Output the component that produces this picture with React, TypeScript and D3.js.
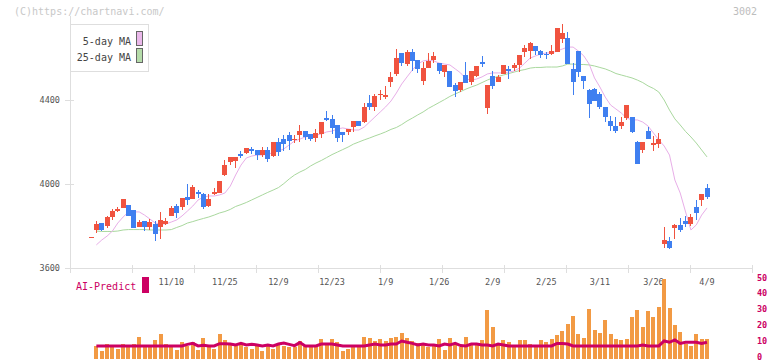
import * as d3 from "d3";
import { useEffect, useRef } from "react";

// OHLC, one entry per trading day (index 15 = 11/10, last = 4/9)
const openP = [
  3746, 3781, 3814, 3800, 3843, 3871, 3886, 3900, 3876, 3795, 3824, 3795, 3810, 3795, 3810, 3848, 3895, 3890, 3938, 3929,
  3962, 3952, 3895, 3952, 3957, 4043, 4105, 4110, 4143, 4148, 4167, 4162, 4138, 4162, 4133, 4200, 4214, 4233, 4210, 4233,
  4252, 4238, 4219, 4238, 4314, 4310, 4281, 4248, 4248, 4271, 4300, 4295, 4386, 4367, 4424, 4414, 4486, 4524, 4624, 4571,
  4629, 4590, 4490, 4552, 4590, 4576, 4533, 4538, 4471, 4448, 4519, 4486, 4514, 4581, 4362, 4514, 4486, 4524, 4548, 4552,
  4567, 4629, 4633, 4657, 4633, 4619, 4619, 4629, 4690, 4695, 4548, 4633, 4514, 4448, 4452, 4429, 4367, 4300, 4276, 4276,
  4314, 4319, 4200, 4162, 4252, 4186, 4190, 3714, 3729, 3790, 3805, 3824, 3810, 3890, 3924, 3981,
];
const highP = [
  3746, 3824, 3814, 3848, 3881, 3890, 3929, 3900, 3876, 3829, 3824, 3833, 3824, 3867, 3838, 3895, 3905, 3933, 4000, 3995,
  3971, 3957, 3952, 3981, 4014, 4114, 4129, 4129, 4157, 4171, 4176, 4162, 4176, 4176, 4200, 4219, 4233, 4248, 4233, 4281,
  4252, 4238, 4262, 4295, 4348, 4329, 4281, 4248, 4262, 4300, 4300, 4386, 4424, 4429, 4448, 4467, 4533, 4643, 4624, 4638,
  4643, 4590, 4581, 4624, 4629, 4576, 4567, 4538, 4481, 4486, 4581, 4538, 4562, 4610, 4471, 4538, 4519, 4567, 4562, 4576,
  4614, 4662, 4676, 4657, 4638, 4629, 4662, 4743, 4762, 4724, 4576, 4633, 4514, 4452, 4457, 4438, 4367, 4324, 4319, 4319,
  4376, 4319, 4205, 4200, 4271, 4229, 4243, 3795, 3748, 3810, 3838, 3848, 3857, 3924, 3952, 4000,
];
const lowP = [
  3746, 3768, 3776, 3792, 3829, 3867, 3886, 3848, 3790, 3795, 3776, 3781, 3729, 3738, 3805, 3848, 3838, 3876, 3900, 3929,
  3933, 3881, 3890, 3948, 3957, 4038, 4090, 4076, 4124, 4143, 4143, 4114, 4129, 4105, 4129, 4133, 4157, 4162, 4195, 4200,
  4210, 4205, 4200, 4219, 4300, 4238, 4200, 4200, 4233, 4248, 4276, 4290, 4352, 4348, 4400, 4405, 4462, 4514, 4562, 4562,
  4538, 4529, 4471, 4552, 4576, 4524, 4510, 4462, 4414, 4438, 4481, 4471, 4510, 4557, 4333, 4452, 4486, 4524, 4500, 4538,
  4533, 4605, 4595, 4614, 4600, 4595, 4614, 4629, 4671, 4571, 4424, 4510, 4452, 4314, 4395, 4357, 4295, 4252, 4243, 4262,
  4305, 4243, 4095, 4148, 4214, 4157, 4171, 3695, 3690, 3738, 3771, 3795, 3800, 3829, 3895, 3929,
];
const closeP = [
  3746, 3810, 3781, 3843, 3871, 3881, 3929, 3848, 3790, 3819, 3795, 3819, 3762, 3829, 3824, 3886, 3862, 3933, 3924, 3986,
  3952, 3890, 3929, 3962, 4014, 4090, 4129, 4129, 4133, 4171, 4157, 4138, 4162, 4119, 4200, 4152, 4190, 4205, 4214, 4252,
  4224, 4214, 4243, 4295, 4305, 4267, 4219, 4233, 4262, 4300, 4276, 4367, 4367, 4419, 4429, 4424, 4510, 4600, 4576, 4629,
  4586, 4548, 4552, 4586, 4610, 4538, 4567, 4462, 4443, 4486, 4481, 4538, 4562, 4571, 4471, 4467, 4510, 4567, 4538, 4567,
  4614, 4648, 4671, 4633, 4614, 4614, 4633, 4743, 4719, 4571, 4486, 4533, 4490, 4381, 4395, 4367, 4319, 4276, 4252, 4295,
  4376, 4248, 4095, 4200, 4214, 4195, 4214, 3733, 3695, 3805, 3781, 3810, 3843, 3862, 3952, 3938,
];

// moving averages as drawn
const ma5 = [
  null, 3710, 3733, 3752, 3776, 3814, 3843, 3867, 3867, 3867, 3852, 3833, 3814, 3810, 3810, 3819, 3829, 3848, 3871, 3895,
  3924, 3938, 3943, 3943, 3948, 3957, 3990, 4043, 4090, 4124, 4133, 4138, 4138, 4143, 4148, 4157, 4167, 4186, 4205, 4214,
  4224, 4229, 4233, 4238, 4248, 4252, 4262, 4267, 4262, 4257, 4257, 4271, 4295, 4319, 4343, 4367, 4395, 4433, 4476, 4510,
  4543, 4571, 4586, 4590, 4586, 4576, 4571, 4567, 4548, 4529, 4500, 4495, 4500, 4510, 4524, 4529, 4529, 4529, 4533, 4538,
  4552, 4576, 4600, 4610, 4619, 4624, 4624, 4633, 4643, 4652, 4652, 4633, 4610, 4571, 4505, 4462, 4414, 4376, 4357, 4338,
  4314, 4305, 4305, 4295, 4276, 4243, 4210, 4181, 4138, 4019, 3957, 3867, 3781, 3805, 3852, 3886,
];
const ma25 = [
  null, 3776, 3774, 3774, 3774, 3776, 3781, 3783, 3783, 3783, 3783, 3781, 3781, 3781, 3781, 3783, 3793, 3802, 3814, 3821,
  3829, 3836, 3843, 3852, 3862, 3869, 3879, 3893, 3902, 3912, 3924, 3936, 3948, 3960, 3971, 3983, 4002, 4024, 4043, 4057,
  4069, 4086, 4100, 4112, 4126, 4140, 4152, 4164, 4176, 4190, 4200, 4210, 4219, 4229, 4238, 4248, 4260, 4269, 4283, 4300,
  4314, 4329, 4343, 4360, 4374, 4388, 4402, 4417, 4429, 4440, 4452, 4462, 4471, 4483, 4495, 4505, 4512, 4519, 4526, 4533,
  4540, 4545, 4552, 4555, 4555, 4557, 4557, 4557, 4562, 4571, 4571, 4569, 4569, 4567, 4562, 4555, 4548, 4538, 4526, 4519,
  4512, 4505, 4495, 4483, 4467, 4455, 4438, 4400, 4352, 4310, 4281, 4250, 4224, 4195, 4162, 4129,
];

// lower panel
const volume = [
  null, 7.9, 4.7, 9.1, 7.9, 6.0, 9.1, 7.9, 9.1, 13.5, 7.9, 7.9, 11.6, 15.4, 9.1, 7.9, 5.3, 10.4, 7.9, 10.4,
  5.3, 12.9, 7.9, 6.0, 15.4, 11.6, 8.5, 7.9, 9.1, 7.3, 6.0, 8.5, 4.7, 8.5, 6.0, 9.1, 7.9, 7.3, 7.3, 11.0,
  7.9, 7.0, 7.0, 12.3, 8.5, 12.3, 10.6, 4.9, 6.0, 7.0, 7.9, 13.7, 12.9, 11.2, 12.3, 11.2, 12.9, 13.7, 16.2, 12.9,
  11.2, 9.6, 10.0, 7.0, 7.9, 12.3, 5.3, 12.9, 9.6, 7.0, 13.7, 9.6, 10.0, 11.6, 30.5, 20.0, 8.5, 11.6, 10.6, 7.0,
  11.6, 11.6, 9.1, 7.9, 11.6, 10.6, 12.5, 14.8, 17.3, 21.7, 26.7, 15.4, 12.9, 31.1, 17.9, 16.0, 24.2, 15.4, 12.3, 11.6,
  12.3, 26.1, 30.5, 19.8, 29.9, 26.1, 32.4, 50, 31.8, 21.1, 16.9, 9.0, 7.9, 15.4, 12.3, 12.3,
];
const aiPredict = [
  null, 7.9, 7.9, 7.9, 7.9, 7.9, 7.9, 7.9, 7.9, 7.9, 7.9, 7.9, 7.9, 7.9, 7.9, 7.9, 7.9, 7.9, 8.9, 9.5,
  7.9, 8.3, 7.9, 7.9, 9.3, 9.3, 9.1, 8.5, 9.5, 8.5, 8.9, 8.5, 7.9, 8.5, 7.9, 9.1, 9.7, 8.9, 8.1, 10.0,
  7.9, 7.9, 7.9, 9.1, 9.1, 9.1, 8.5, 7.9, 7.9, 7.9, 7.9, 7.9, 8.5, 9.1, 8.5, 8.5, 9.1, 9.1, 11.0, 10.2,
  9.5, 8.5, 9.1, 8.5, 8.5, 7.9, 9.1, 8.5, 9.5, 8.1, 7.9, 9.1, 9.1, 8.5, 8.5, 7.9, 9.1, 8.5, 7.9, 7.9,
  7.9, 7.9, 7.9, 7.9, 7.9, 7.9, 7.9, 9.5, 9.5, 9.1, 7.9, 7.9, 7.9, 7.9, 7.9, 7.9, 7.9, 7.9, 7.9, 7.9,
  7.9, 7.9, 7.9, 8.5, 7.9, 7.9, 7.9, 11.0, 10.2, 11.7, 9.5, 10.2, 10.2, 10.2, 9.5, 10.2,
];

const dateLabels = ["11/10", "11/25", "12/9", "12/23", "1/9", "1/26", "2/9", "2/25", "3/11", "3/26", "4/9"];
const dateLabelIdx = [15, 25, 35, 45, 55, 65, 75, 85, 95, 105, 115];
const priceTicks = [3600, 4000, 4400];
const volTicks = [0, 10, 20, 30, 40, 50];

const MONO = "'DejaVu Sans Mono', 'Liberation Mono', monospace";
const UP = "#f0533f";
const DOWN = "#3f7ff0";
const CRIMSON = "#cc0063";
const GRID = "#dedede";

const App = () => {
    const svgRef = useRef<SVGSVGElement | null>(null);
    const dimensions = { width: 772, height: 361 };
    const plot = { left: 70, right: 752, top: 16, bottom: 268 };

    useEffect(() => {
        const svg = d3.select(svgRef.current);
        svg.selectAll("*").remove();

        const n = closeP.length;
        const xScale = d3.scaleLinear().domain([0, n - 1]).range([91, 707]);
        const yScale = d3.scaleLinear().domain([3600, 4800]).range([plot.bottom, plot.top]);
        const vScale = d3.scaleLinear().domain([0, 50]).range([358.5, 279]);
        const gridScale = d3.scaleLinear().domain([0, 11]).range([plot.left, plot.right]);

        svg.append("rect")
            .attr("width", dimensions.width)
            .attr("height", dimensions.height)
            .attr("fill", "#fff");

        // header texts
        svg.append("text")
            .attr("x", 14).attr("y", 15)
            .attr("font-family", MONO).attr("font-size", 10)
            .attr("fill", "#c8c8c8")
            .text("(C)https://chartnavi.com/");
        svg.append("text")
            .attr("x", 757).attr("y", 15)
            .attr("text-anchor", "end")
            .attr("font-family", MONO).attr("font-size", 10)
            .attr("fill", "#bdbdbd")
            .text("3002");

        // axes
        const axes = svg.append("g").attr("stroke", GRID).attr("shape-rendering", "crispEdges");
        axes.append("line")
            .attr("x1", plot.left + 0.5).attr("x2", plot.left + 0.5)
            .attr("y1", plot.top).attr("y2", plot.bottom + 5);
        axes.append("line")
            .attr("x1", 65).attr("x2", plot.right + 1)
            .attr("y1", plot.bottom + 0.5).attr("y2", plot.bottom + 0.5);
        axes.selectAll(".ytick")
            .data(priceTicks)
            .join("line")
            .attr("x1", 65).attr("x2", 74)
            .attr("y1", (d) => Math.round(yScale(d)) + 0.5)
            .attr("y2", (d) => Math.round(yScale(d)) + 0.5);
        axes.selectAll(".xtick")
            .data(d3.range(12))
            .join("line")
            .attr("x1", (d) => Math.round(gridScale(d)) + 0.5)
            .attr("x2", (d) => Math.round(gridScale(d)) + 0.5)
            .attr("y1", plot.bottom - 3)
            .attr("y2", plot.bottom + 5);

        svg.append("g")
            .selectAll("text")
            .data(priceTicks)
            .join("text")
            .attr("x", 60)
            .attr("y", (d) => yScale(d) + 3)
            .attr("text-anchor", "end")
            .attr("font-family", MONO).attr("font-size", 8.5)
            .attr("fill", "#555")
            .text((d) => d);

        svg.append("g")
            .selectAll("text")
            .data(dateLabels)
            .join("text")
            .attr("x", (_, i) => xScale(dateLabelIdx[i]))
            .attr("y", 285)
            .attr("text-anchor", "middle")
            .attr("font-family", MONO).attr("font-size", 8.5)
            .attr("fill", "#555")
            .text((d) => d);

        // moving averages
        const maLine = d3
            .line<number | null>()
            .defined((d) => d !== null)
            .x((_, i) => xScale(i))
            .y((d) => yScale(d as number));

        svg.append("path")
            .datum(ma25)
            .attr("d", maLine)
            .attr("fill", "none")
            .attr("stroke", "#a9d89e")
            .attr("stroke-width", 1);
        svg.append("path")
            .datum(ma5)
            .attr("d", maLine)
            .attr("fill", "none")
            .attr("stroke", "#e8aee8")
            .attr("stroke-width", 1);

        // candles
        const candles = svg.append("g").attr("shape-rendering", "crispEdges");
        const idx = d3.range(n);
        candles.selectAll(".wick")
            .data(idx)
            .join("line")
            .attr("x1", (i) => Math.round(xScale(i) - 2.5) + 2.5)
            .attr("x2", (i) => Math.round(xScale(i) - 2.5) + 2.5)
            .attr("y1", (i) => yScale(highP[i]))
            .attr("y2", (i) => yScale(lowP[i]))
            .attr("stroke", (i) => (closeP[i] >= openP[i] ? UP : DOWN))
            .attr("stroke-width", 1);
        candles.selectAll(".body")
            .data(idx)
            .join("rect")
            .attr("x", (i) => Math.round(xScale(i) - 2.5))
            .attr("width", 5)
            .attr("y", (i) => yScale(Math.max(openP[i], closeP[i])))
            .attr("height", (i) =>
                Math.max(1, Math.abs(yScale(openP[i]) - yScale(closeP[i])))
            )
            .attr("fill", (i) => (closeP[i] >= openP[i] ? UP : DOWN));

        // legend
        const legend = svg.append("g");
        legend.append("rect")
            .attr("x", 70.5).attr("y", 24.5)
            .attr("width", 78).attr("height", 47)
            .attr("fill", "#fff")
            .attr("stroke", GRID);
        const legendItems = [
            { label: "5-day MA", color: "#eab8ea" },
            { label: "25-day MA", color: "#b5dcaa" },
        ];
        legendItems.forEach((item, i) => {
            legend.append("text")
                .attr("x", 131).attr("y", 45 + i * 16)
                .attr("text-anchor", "end")
                .attr("font-family", MONO).attr("font-size", 10)
                .attr("fill", "#444")
                .text(item.label);
            legend.append("rect")
                .attr("x", 136.5).attr("y", 31.5 + i * 17)
                .attr("width", 6).attr("height", 14)
                .attr("fill", item.color)
                .attr("stroke", "#666");
        });

        // volume panel
        svg.append("g")
            .attr("shape-rendering", "crispEdges")
            .selectAll("rect")
            .data(idx.filter((i) => volume[i] !== null))
            .join("rect")
            .attr("x", (i) => Math.round(xScale(i) - 2))
            .attr("width", 4)
            .attr("y", (i) => vScale(volume[i] as number))
            .attr("height", (i) => vScale(0) - vScale(volume[i] as number))
            .attr("fill", "#f29a44");

        const aiLine = d3
            .line<number | null>()
            .defined((d) => d !== null)
            .x((_, i) => xScale(i))
            .y((d) => vScale(d as number));
        svg.append("path")
            .datum(aiPredict)
            .attr("d", aiLine)
            .attr("fill", "none")
            .attr("stroke", CRIMSON)
            .attr("stroke-width", 3);

        svg.append("g")
            .selectAll("text")
            .data(volTicks)
            .join("text")
            .attr("x", 757)
            .attr("y", (d) => vScale(d) + 1.5)
            .attr("font-family", MONO).attr("font-size", 8.5)
            .attr("font-weight", "bold")
            .attr("fill", CRIMSON)
            .text((d) => d);

        svg.append("text")
            .attr("x", 76).attr("y", 290)
            .attr("font-family", MONO).attr("font-size", 10)
            .attr("fill", CRIMSON)
            .text("AI-Predict");
        svg.append("rect")
            .attr("x", 142).attr("y", 277)
            .attr("width", 7).attr("height", 16)
            .attr("fill", CRIMSON);
    }, []);

    return (
        <svg
            ref={svgRef}
            width={dimensions.width}
            height={dimensions.height}
            style={{ position: "absolute", left: 0, top: 0 }}
        />
    );
};

export default App;
